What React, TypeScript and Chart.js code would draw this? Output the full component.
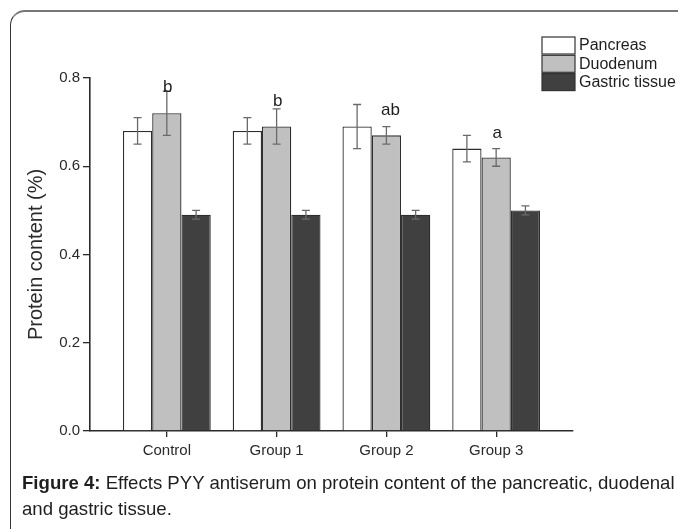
import React, { useEffect, useRef } from "react";
import { Chart, registerables } from "chart.js";

Chart.register(...registerables);

const categories = ["Control", "Group 1", "Group 2", "Group 3"];
const seriesNames = ["Pancreas", "Duodenum", "Gastric tissue"];
const pancreas = [0.68, 0.68, 0.69, 0.64];
const pancreasErr = [0.03, 0.03, 0.05, 0.03];
const duodenum = [0.72, 0.69, 0.67, 0.62];
const duodenumErr = [0.05, 0.04, 0.02, 0.02];
const gastric = [0.49, 0.49, 0.49, 0.5];
const gastricErr = [0.01, 0.01, 0.01, 0.01];
const letters = ["b", "b", "ab", "a"];
const letterLevels = [0.768, 0.737, 0.717, 0.665];
const yMin = 0;
const yMax = 0.8;
const yStep = 0.2;
const yTitle = "Protein content (%)";
const captionBold = "Figure 4:";
const captionLine1 = " Effects PYY antiserum on protein content of the pancreatic, duodenal";
const captionLine2 = "and gastric tissue.";

const FONT = "'Liberation Sans', Arial, Helvetica, sans-serif";
const fills = ["#ffffff", "#c0c0c0", "#404040"];

const errorAndLetters = {
  id: "errorAndLetters",
  afterDatasetsDraw(chart: any) {
    const ctx = chart.ctx;
    const y = chart.scales.y;
    ctx.save();
    chart.data.datasets.forEach((ds: any, di: number) => {
      const meta = chart.getDatasetMeta(di);
      meta.data.forEach((el: any, i: number) => {
        const v = ds.data[i].y;
        const e = ds.errors[i];
        const yt = y.getPixelForValue(v + e);
        const yb = y.getPixelForValue(v - e);
        ctx.strokeStyle = "#6a6a6a";
        ctx.lineWidth = 1.3;
        ctx.beginPath();
        ctx.moveTo(el.x, yt);
        ctx.lineTo(el.x, yb);
        ctx.moveTo(el.x - 4, yt);
        ctx.lineTo(el.x + 4, yt);
        ctx.moveTo(el.x - 4, yb);
        ctx.lineTo(el.x + 4, yb);
        ctx.stroke();
      });
    });
    const dMeta = chart.getDatasetMeta(1);
    ctx.fillStyle = "#1e1e1e";
    ctx.font = `17px ${FONT}`;
    ctx.textAlign = "center";
    ctx.textBaseline = "alphabetic";
    letters.forEach((l, i) => {
      const el = dMeta.data[i];
      ctx.fillText(l, el.x + (l.length > 1 ? 4 : 1), y.getPixelForValue(letterLevels[i]));
    });
    ctx.restore();
  },
};

const boxLegend = {
  id: "boxLegend",
  afterDraw(chart: any) {
    const ctx = chart.ctx;
    ctx.save();
    const x0 = 542;
    const y0 = 37;
    const w = 33;
    const h = 17;
    const pitch = 18.3;
    chart.data.datasets.forEach((ds: any, i: number) => {
      const top = y0 + i * pitch;
      ctx.fillStyle = ds.backgroundColor;
      ctx.fillRect(x0, top, w, h);
      ctx.strokeStyle = "#333";
      ctx.lineWidth = 1.2;
      ctx.strokeRect(x0, top, w, h);
      ctx.fillStyle = "#1e1e1e";
      ctx.font = `16px ${FONT}`;
      ctx.textAlign = "left";
      ctx.textBaseline = "middle";
      ctx.fillText(ds.label, x0 + w + 4, top + h / 2 + 0.5);
    });
    ctx.restore();
  },
};

export default function App() {
  const ref = useRef<HTMLCanvasElement | null>(null);

  useEffect(() => {
    if (!ref.current) return;
    const seriesVals = [pancreas, duodenum, gastric];
    const seriesErrs = [pancreasErr, duodenumErr, gastricErr];
    const chart = new Chart(ref.current, {
      type: "bar",
      data: {
        datasets: seriesNames.map((name, si) => ({
          label: name,
          data: seriesVals[si].map((v, i) => ({ x: i, y: v })),
          errors: seriesErrs[si],
          backgroundColor: fills[si],
          borderColor: "#2e2e2e",
          borderWidth: 1.3,
          categoryPercentage: 0.8,
          barPercentage: 1.0,
        })) as any,
      },
      options: {
        responsive: false,
        animation: false,
        devicePixelRatio: 1,
        layout: { padding: { left: 0, top: 78, right: 105, bottom: 0 } },
        plugins: {
          legend: { display: false },
          tooltip: { enabled: false },
        },
        scales: {
          x: {
            type: "linear",
            min: -0.7,
            max: categories.length - 0.3,
            offset: false,
            afterBuildTicks: (axis: any) => {
              axis.ticks = categories.map((_, i) => ({ value: i }));
            },
            afterFit: (axis: any) => {
              axis.height = 98;
            },
            ticks: {
              autoSkip: false,
              maxRotation: 0,
              padding: 5,
              color: "#2a2a2a",
              font: { family: FONT, size: 15 },
              callback: (v: any) => categories[v] ?? "",
            },
            grid: {
              display: true,
              offset: false,
              drawOnChartArea: false,
              drawTicks: true,
              tickLength: 6,
              color: "#2a2a2a",
              lineWidth: 1.3,
            },
            border: { display: true, color: "#2a2a2a", width: 1.6 },
          },
          y: {
            type: "linear",
            min: yMin,
            max: yMax,
            afterFit: (axis: any) => {
              axis.width = 90;
            },
            ticks: {
              stepSize: yStep,
              padding: 3,
              color: "#2a2a2a",
              font: { family: FONT, size: 15 },
              callback: (v: any) => Number(v).toFixed(1),
            },
            grid: {
              display: true,
              drawOnChartArea: false,
              drawTicks: true,
              tickLength: 7,
              color: "#2a2a2a",
              lineWidth: 1.3,
            },
            border: { display: true, color: "#2a2a2a", width: 1.6 },
            title: {
              display: true,
              text: yTitle,
              color: "#2a2a2a",
              font: { family: FONT, size: 20 },
              padding: { top: 24, bottom: 0 },
            },
          },
        },
      },
      plugins: [errorAndLetters, boxLegend],
    });
    return () => chart.destroy();
  }, []);

  return (
    <div
      style={{
        position: "absolute",
        left: 0,
        top: 0,
        width: 678,
        height: 529,
        overflow: "hidden",
        background: "#fff",
      }}
    >
      <div
        style={{
          position: "absolute",
          left: 10,
          top: 10,
          width: 720,
          height: 600,
          borderTop: "2.5px solid #777",
          borderLeft: "1.5px solid #333",
          borderTopLeftRadius: 15,
          boxSizing: "border-box",
        }}
      />
      <canvas
        ref={ref}
        width={678}
        height={529}
        style={{ position: "absolute", left: 0, top: 0, width: 678, height: 529 }}
      />
      <div
        style={{
          position: "absolute",
          left: 22,
          top: 470,
          whiteSpace: "nowrap",
          fontFamily: FONT,
          fontSize: 18.6,
          lineHeight: "26px",
          color: "#1e1e1e",
        }}
      >
        <b>{captionBold}</b>
        {captionLine1}
        <br />
        {captionLine2}
      </div>
    </div>
  );
}
